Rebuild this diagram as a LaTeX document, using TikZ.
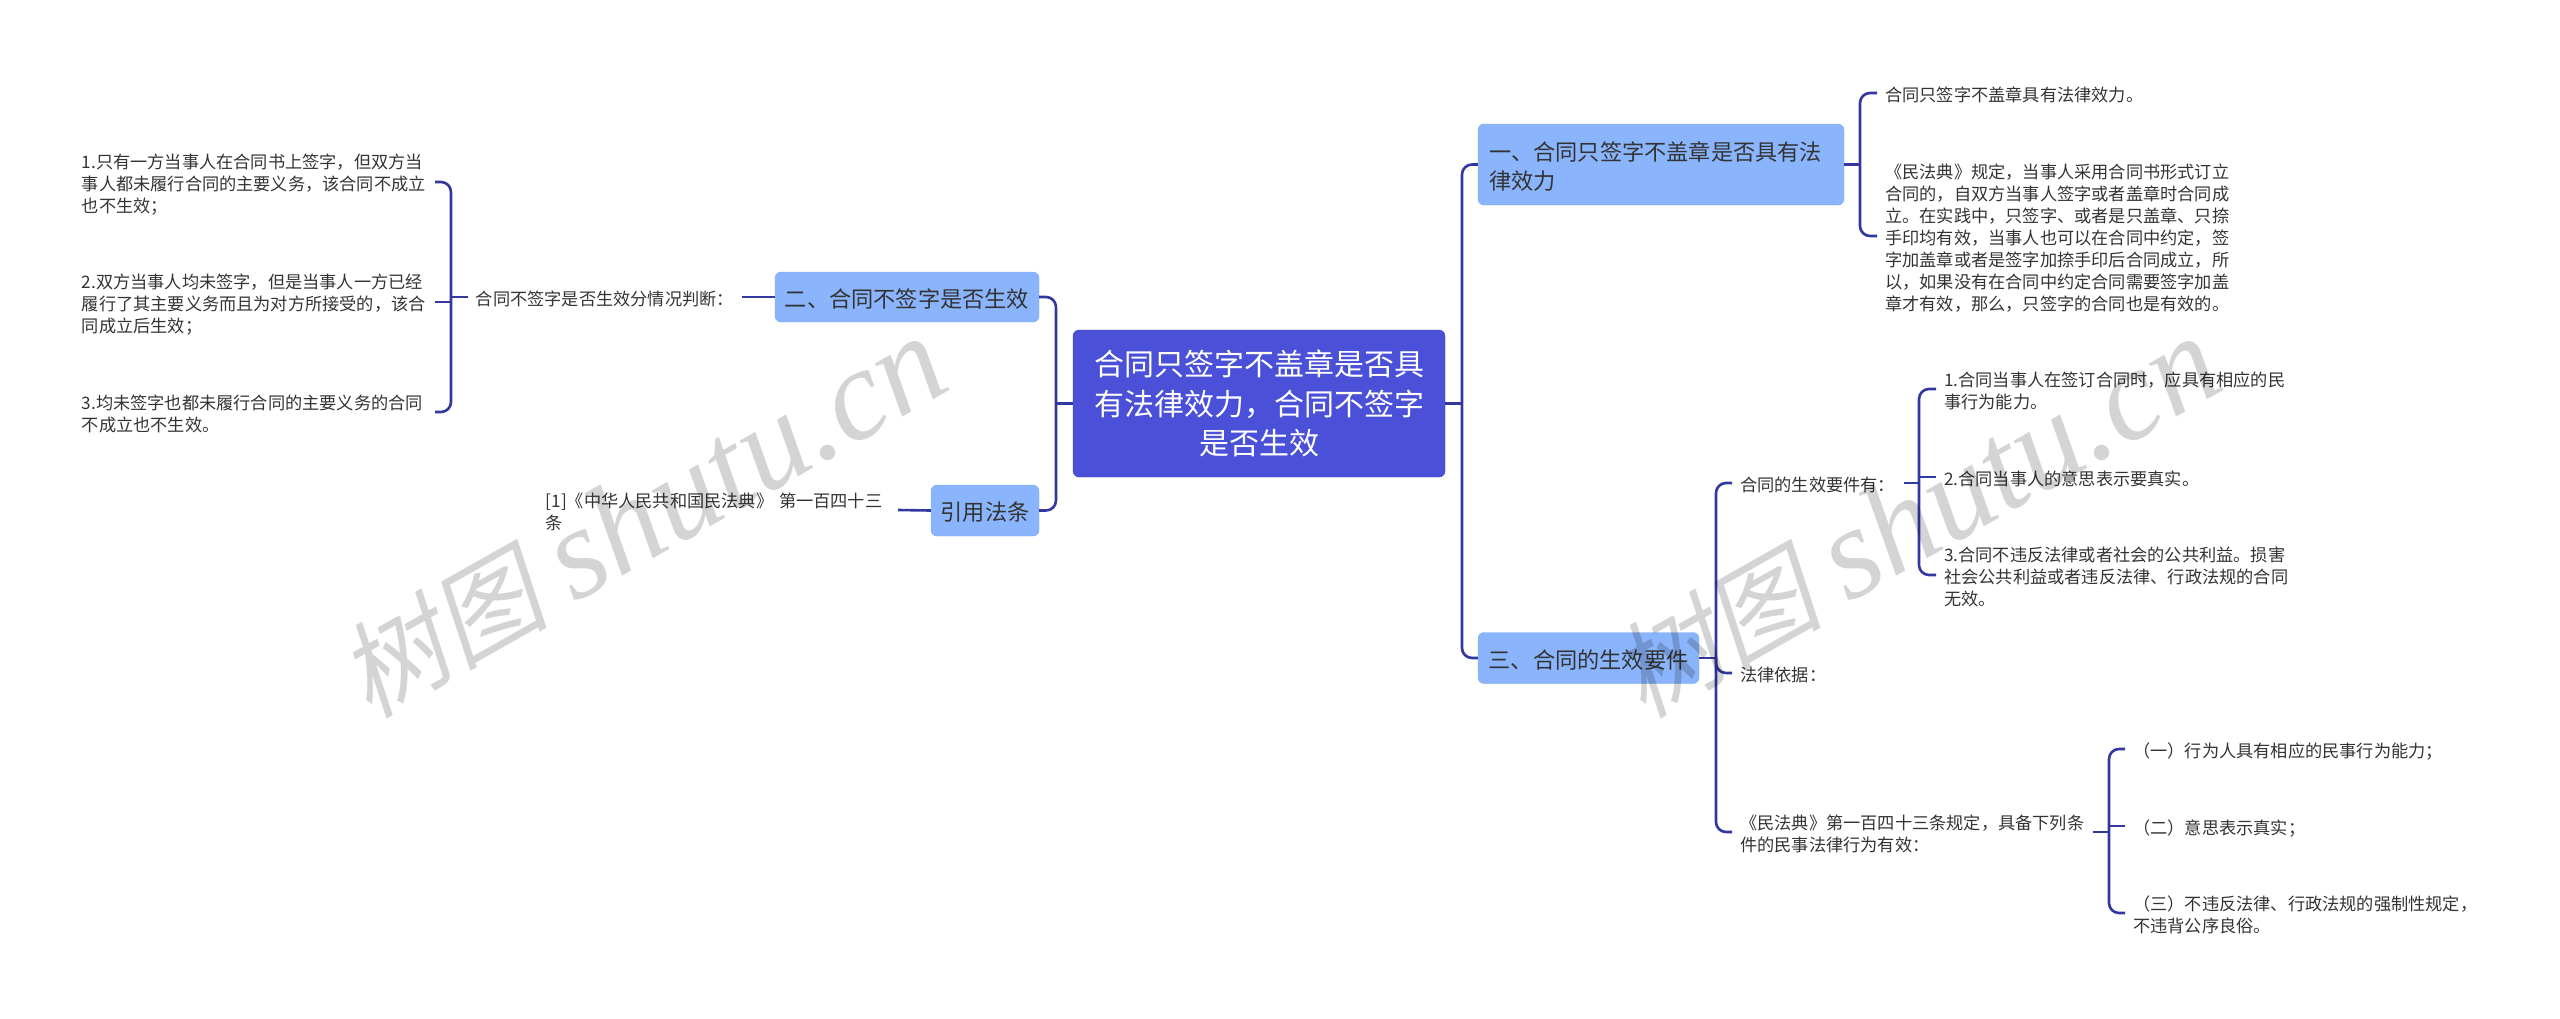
\documentclass[tikz,border=0pt]{standalone}
\usepackage{fontspec}
\setmainfont{Noto Sans CJK SC}
\newfontfamily\markcjk[FakeSlant=0.2]{Noto Sans CJK SC}
\newfontfamily\marklat{Liberation Serif}
\usepackage{xcolor}
\usetikzlibrary{positioning,calc}
\definecolor{rootblue}{HTML}{4A50D8}
\definecolor{rootedge}{HTML}{3D43B8}
\definecolor{secblue}{HTML}{8AB4FB}
\definecolor{secedge}{HTML}{7FA9F0}
\definecolor{linkblue}{HTML}{3338A0}
\definecolor{leafink}{HTML}{333333}
\tikzset{
    rootbox/.style={draw=rootedge,fill=rootblue,text=white,rounded corners=6,align=center,
        minimum width=372,minimum height=147,inner sep=0,font=\fontsize{30}{39.5}\selectfont},
    secbox/.style={draw=secedge,fill=secblue,text=leafink,rounded corners=6,align=left,
        inner sep=0,font=\fontsize{22.2}{29}\selectfont,execute at begin node={\rule{0pt}{22pt}}},
    leaf/.style={text=leafink,align=left,text width=#1,inner xsep=8,inner ysep=0,font=\fontsize{17.2}{22}\selectfont,
        execute at begin node={\rule{0pt}{19pt}}},
    leaf/.default=345,
    link/.style={draw=linkblue,line width=2.6},
    curved/.style={link,rounded corners=10},
    watermark/.style={text=black,opacity=0.17,rotate=29.5,inner sep=0}
}
\newcommand{\marktext}{{\fontsize{105}{105}\selectfont\markcjk 树图}\hspace*{26pt}{\fontsize{130}{130}\selectfont\marklat\itshape shutu.cn}}
\begin{document}
\begin{tikzpicture}[x=1pt,y=-1pt]
    \useasboundingbox (0,0) rectangle (2560,1018);

    % Spines
    \coordinate (spineL) at (1056,0);
    \coordinate (spineR) at (1462,0);
    \coordinate (spineA) at (1860,0);
    \coordinate (spineB) at (451,0);
    \coordinate (spineC) at (1716,0);
    \coordinate (spineD) at (1919,0);
    \coordinate (spineE) at (2109,0);

    % Centre
    \node[rootbox] (root) at (1259,403.5) {合同只签字不盖章是否具\\有法律效力，合同不签字\\是否生效};

    % Sections
    \node[secbox,minimum width=366,minimum height=81,text width=344] (secA) at (1661,164.5) {一、合同只签字不盖章是否具有法\\律效力};
    \node[secbox,minimum width=264,minimum height=50,align=center] (secB) at (907,297) {二、合同不签字是否生效};
    \node[secbox,minimum width=221,minimum height=51,align=center] (secC) at (1588.5,658) {三、合同的生效要件};
    \node[secbox,minimum width=108,minimum height=51,align=center] (secD) at (985,510.5) {引用法条};

    % Section one
    \node[leaf,anchor=west] (a1) at (1877,93) {合同只签字不盖章具有法律效力。};
    \node[leaf,anchor=west] (a2) at (1877,236) {《民法典》规定，当事人采用合同书形式订立\\合同的，自双方当事人签字或者盖章时合同成\\立。在实践中，只签字、或者是只盖章、只捺\\手印均有效，当事人也可以在合同中约定，签\\字加盖章或者是签字加捺手印后合同成立，所\\以，如果没有在合同中约定合同需要签字加盖\\章才有效，那么，只签字的合同也是有效的。};

    % Section two
    \node[leaf=258,anchor=east] (b0) at (742,297) {合同不签字是否生效分情况判断：};
    \node[leaf,anchor=east] (b1) at (435,182) {1.只有一方当事人在合同书上签字，但双方当\\事人都未履行合同的主要义务，该合同不成立\\也不生效；};
    \node[leaf,anchor=east] (b2) at (435,302) {2.双方当事人均未签字，但是当事人一方已经\\履行了其主要义务而且为对方所接受的，该合\\同成立后生效；};
    \node[leaf,anchor=east] (b3) at (435,412) {3.均未签字也都未履行合同的主要义务的合同\\不成立也不生效。};

    % Citation
    \node[leaf=344,anchor=east] (d1) at (898,510) {[1]《中华人民共和国民法典》 第一百四十三\\条};

    % Section three
    \node[leaf=156,anchor=west] (c1) at (1732,483) {合同的生效要件有：};
    \node[leaf,anchor=west] (c2) at (1732,673) {法律依据：};
    \node[leaf,anchor=west] (c3) at (1732,832) {《民法典》第一百四十三条规定，具备下列条\\件的民事法律行为有效：};
    \node[leaf,anchor=west] (e1) at (1936,389) {1.合同当事人在签订合同时，应具有相应的民\\事行为能力。};
    \node[leaf,anchor=west] (e2) at (1936,477) {2.合同当事人的意思表示要真实。};
    \node[leaf,anchor=west] (e3) at (1936,575) {3.合同不违反法律或者社会的公共利益。损害\\社会公共利益或者违反法律、行政法规的合同\\无效。};
    \node[leaf=365,anchor=west] (f1) at (2125,749) {（一）行为人具有相应的民事行为能力；};
    \node[leaf=365,anchor=west] (f2) at (2125,826) {（二）意思表示真实；};
    \node[leaf=365,anchor=west] (f3) at (2125,913) {（三）不违反法律、行政法规的强制性规定，\\不违背公序良俗。};

    % Brackets
    \foreach \top/\bot/\spine in {secB.east/secD.east/spineL,secA.west/secC.west/spineR,a1.west/a2.west/spineA,
            b1.east/b3.east/spineB,c1.west/c3.west/spineC,e1.west/e3.west/spineD,f1.west/f3.west/spineE} {
        \draw[curved] (\top) -- (\spine |- \top) -- (\spine |- \bot) -- (\bot);
    }
    % Stubs
    \foreach \from/\spine in {root.west/spineL,root.east/spineR,secA.east/spineA,secC.east/spineC,
            b0.west/spineB,b2.east/spineB,c1.east/spineD,e2.west/spineD,c3.east/spineE,f2.west/spineE} {
        \draw[link] (\from) -- (\spine |- \from);
    }
    \draw[curved] (spineC |- secC.east) -- (spineC |- c2.west) -- (c2.west);
    \draw[link] (secB.west) -- (b0.east);
    \draw[link] (secD.west) -- (d1.east);

    % Watermarks
    \node[watermark] (markL) at (642,518) {\marktext};
    \node[watermark] (markR) at (1916,518) {\marktext};
\end{tikzpicture}
\end{document}
